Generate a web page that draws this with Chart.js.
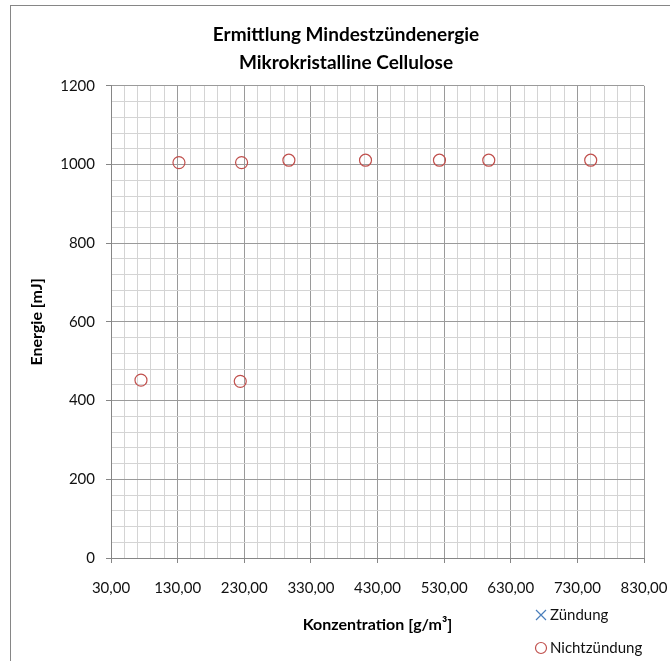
<!DOCTYPE html>
<html>
<head>
<meta charset="utf-8">
<script src="https://cdn.jsdelivr.net/npm/chart.js@4/dist/chart.umd.min.js"></script>
<style>
  html, body { margin: 0; padding: 0; background: #fff; }
  #wrap { width: 670px; height: 661px; position: relative; }
</style>
</head>
<body>
<div id="wrap"><canvas id="mie-chart"></canvas></div>
<script>
const titleLines = ['Ermittlung Mindestzündenergie', 'Mikrokristalline Cellulose'];
const xTitle = 'Konzentration [g/m³]';
const yTitle = 'Energie [mJ]';

// Zündung: no points in this measurement, only shown in the legend
const zuendungX = [];
const zuendungY = [];

// Nichtzündung
const nichtX = [75, 132, 226, 224, 297, 412, 523, 597, 750];
const nichtY = [452, 1005, 1005, 449, 1011, 1011, 1011, 1011, 1011];

const xMin = 30, xMax = 830, xMajor = 100, xMinor = 20;
const yMin = 0, yMax = 1200, yMajor = 200, yMinor = 40;

const font = 'Lato, Carlito, Calibri, sans-serif';
const majorGrid = '#9a9a9a';
const minorGrid = '#d4d4d4';
const axisGrey = '#868686';

function toPoints(xs, ys) {
    return xs.map((x, i) => ({ x, y: ys[i] }));
}

function isMajorX(v) {
    return (Math.round(v) - xMin) % xMajor === 0;
}

function isMajorY(v) {
    return Math.round(v) % yMajor === 0;
}

// outer frame of the chart object
const frame = {
    id: 'frame',
    beforeDraw(chart) {
        const ctx = chart.ctx;
        ctx.save();
        ctx.fillStyle = '#fff';
        ctx.fillRect(0, 0, chart.width, chart.height);
        ctx.strokeStyle = axisGrey;
        ctx.lineWidth = 1;
        ctx.strokeRect(10.5, 5.5, 700, 700);
        ctx.restore();
    }
};

// vertical legend in the lower right corner
const sideLegend = {
    id: 'sideLegend',
    afterDraw(chart) {
        const ctx = chart.ctx;
        ctx.save();
        chart.data.datasets.forEach((ds, i) => {
            const x = 541, y = 615 + i * 33;
            ctx.strokeStyle = ds.borderColor;
            ctx.lineWidth = 1.2;
            ctx.beginPath();
            if (ds.pointStyle === 'crossRot') {
                ctx.moveTo(x - 5, y - 5); ctx.lineTo(x + 5, y + 5);
                ctx.moveTo(x + 5, y - 5); ctx.lineTo(x - 5, y + 5);
            } else {
                ctx.arc(x, y, 5.5, 0, Math.PI * 2);
            }
            ctx.stroke();
            ctx.fillStyle = '#111';
            ctx.font = '15px ' + font;
            ctx.textBaseline = 'middle';
            ctx.textAlign = 'left';
            ctx.fillText(ds.label, x + 9, y);
        });
        ctx.restore();
    }
};

new Chart(document.getElementById('mie-chart'), {
    type: 'scatter',
    data: {
        datasets: [{
            label: 'Zündung',
            data: toPoints(zuendungX, zuendungY),
            pointStyle: 'crossRot',
            pointRadius: 5.5,
            borderColor: '#4a7ebb',
            backgroundColor: 'transparent',
            borderWidth: 1.2
        }, {
            label: 'Nichtzündung',
            data: toPoints(nichtX, nichtY),
            pointStyle: 'circle',
            pointRadius: 6,
            borderColor: '#c0504d',
            backgroundColor: 'transparent',
            borderWidth: 1.2
        }]
    },
    options: {
        responsive: true,
        maintainAspectRatio: false,
        animation: false,
        layout: { padding: { left: 23.4, right: 1.4, top: 0, bottom: 22.4 } },
        plugins: {
            legend: { display: false },
            tooltip: { enabled: false },
            title: {
                display: true,
                text: titleLines,
                color: '#000',
                font: { family: font, size: 19, weight: 'bold', lineHeight: 1.47 },
                padding: { top: 20.8, bottom: 9.2 }
            }
        },
        scales: {
            x: {
                type: 'linear',
                min: xMin,
                max: xMax,
                afterFit(s) { s.height = 80.6; },
                border: { color: axisGrey, width: 1 },
                grid: {
                    color: c => isMajorX(c.tick.value) ? majorGrid : minorGrid,
                    tickColor: c => isMajorX(c.tick.value) ? axisGrey : 'transparent',
                    tickLength: 5
                },
                ticks: {
                    stepSize: xMinor,
                    autoSkip: false,
                    maxRotation: 0,
                    padding: 0,
                    color: '#111',
                    // tall line box pushes the labels down without widening the side padding
                    font: { family: font, size: 15, lineHeight: 50 / 15 },
                    callback: v => isMajorX(v) ? Math.round(v).toFixed(2).replace('.', ',') : ''
                },
                title: {
                    display: true,
                    text: xTitle,
                    color: '#000',
                    font: { family: font, size: 16, weight: 'bold' }
                }
            },
            y: {
                type: 'linear',
                min: yMin,
                max: yMax,
                afterFit(s) { s.width = 87.6; },
                border: { color: axisGrey, width: 1 },
                grid: {
                    color: c => isMajorY(c.tick.value) ? majorGrid : minorGrid,
                    tickColor: c => isMajorY(c.tick.value) ? axisGrey : 'transparent',
                    tickLength: 5
                },
                ticks: {
                    stepSize: yMinor,
                    autoSkip: false,
                    padding: 11,
                    color: '#111',
                    font: { family: font, size: 15 },
                    callback: v => isMajorY(v) ? String(Math.round(v)) : ''
                },
                title: {
                    display: true,
                    text: yTitle,
                    color: '#000',
                    font: { family: font, size: 16, weight: 'bold' }
                }
            },
            // empty box on the right so the title sits centred like in the original
            spacer: {
                type: 'linear',
                position: 'right',
                afterFit(s) { s.width = 24.6; },
                grid: { display: false },
                border: { display: false },
                ticks: { display: false }
            }
        }
    },
    plugins: [frame, sideLegend]
});
</script>
</body>
</html>
